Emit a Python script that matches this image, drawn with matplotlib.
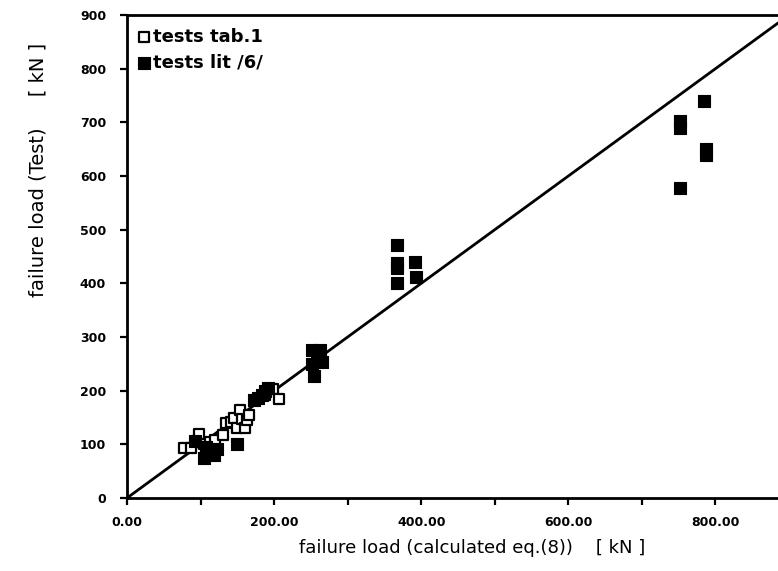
import matplotlib
matplotlib.use("Agg")
import matplotlib.pyplot as plt
import numpy as np

# tests tab.1 (open squares)
tab1_x = [78, 87, 95, 98, 105, 113, 120, 131, 135, 142, 146, 149, 154, 157, 160, 163, 166, 188, 199, 206]
tab1_y = [93, 93, 107, 120, 100, 105, 108, 118, 140, 142, 150, 130, 164, 148, 130, 145, 155, 192, 204, 184]

# tests lit /6/ (filled squares)
lit_x = [92, 104, 108, 112, 118, 122, 149, 172, 178, 184, 188, 192,
         252, 252, 254, 258, 263, 265, 367, 367, 367, 367, 392, 393,
         752, 752, 752, 785, 787, 787]
lit_y = [107, 75, 95, 82, 80, 92, 100, 182, 186, 192, 200, 205,
         275, 250, 228, 262, 275, 253, 471, 438, 428, 400, 440, 412,
         702, 690, 578, 740, 650, 640]

line_x = [0, 900]
line_y = [0, 900]

x_ticks = [0, 100, 200, 300, 400, 500, 600, 700, 800]
x_labels = ["0.00", "", "200.00", "", "400.00", "", "600.00", "", "800.00"]
y_ticks = [0, 100, 200, 300, 400, 500, 600, 700, 800, 900]
y_labels = ["0", "100", "200", "300", "400", "500", "600", "700", "800", "900"]

W, H = 778, 571
fig = plt.figure(figsize=(W / 100, H / 100), dpi=100)
ax = fig.add_axes([127 / W, 73 / H, (W - 127) / W, (498 - 15) / H])

ax.plot(line_x, line_y, color="black", lw=2.0, zorder=1)
ax.scatter(tab1_x, tab1_y, marker="s", s=55, facecolor="white", edgecolor="black",
           linewidth=1.6, zorder=3, label="tests tab.1")
ax.scatter(lit_x, lit_y, marker="s", s=70, facecolor="black", edgecolor="black",
           linewidth=0.8, zorder=4, label="tests lit /6/")

ax.set_xlim(0, 885)
ax.set_ylim(0, 900)
ax.set_xticks(x_ticks)
ax.set_xticklabels(x_labels)
ax.set_yticks(y_ticks)
ax.set_yticklabels(y_labels)

for side in ["left", "bottom", "top"]:
    ax.spines[side].set_linewidth(2.0)
ax.spines["right"].set_visible(False)
ax.tick_params(direction="out", length=5, width=1.6, labelsize=9)
ax.tick_params(axis="y", pad=10)
ax.tick_params(axis="x", pad=8)
for lab in ax.get_xticklabels() + ax.get_yticklabels():
    lab.set_fontweight("bold")

leg = ax.legend(loc="upper left", bbox_to_anchor=(-0.005, 1.0), frameon=False,
                handletextpad=0.1, borderaxespad=0.3, labelspacing=0.45,
                handlelength=0.8, prop={"size": 13, "weight": "bold"})

fig.text(472 / W, 1 - 548 / H, "failure load (calculated eq.(8))    [ kN ]",
         ha="center", va="center", fontsize=13, fontweight="medium")
fig.text(38 / W, 1 - 170 / H, "failure load (Test)     [ kN ]", rotation=90,
         ha="center", va="center", fontsize=14, fontweight="medium")

fig.savefig("out.png", dpi=100)
